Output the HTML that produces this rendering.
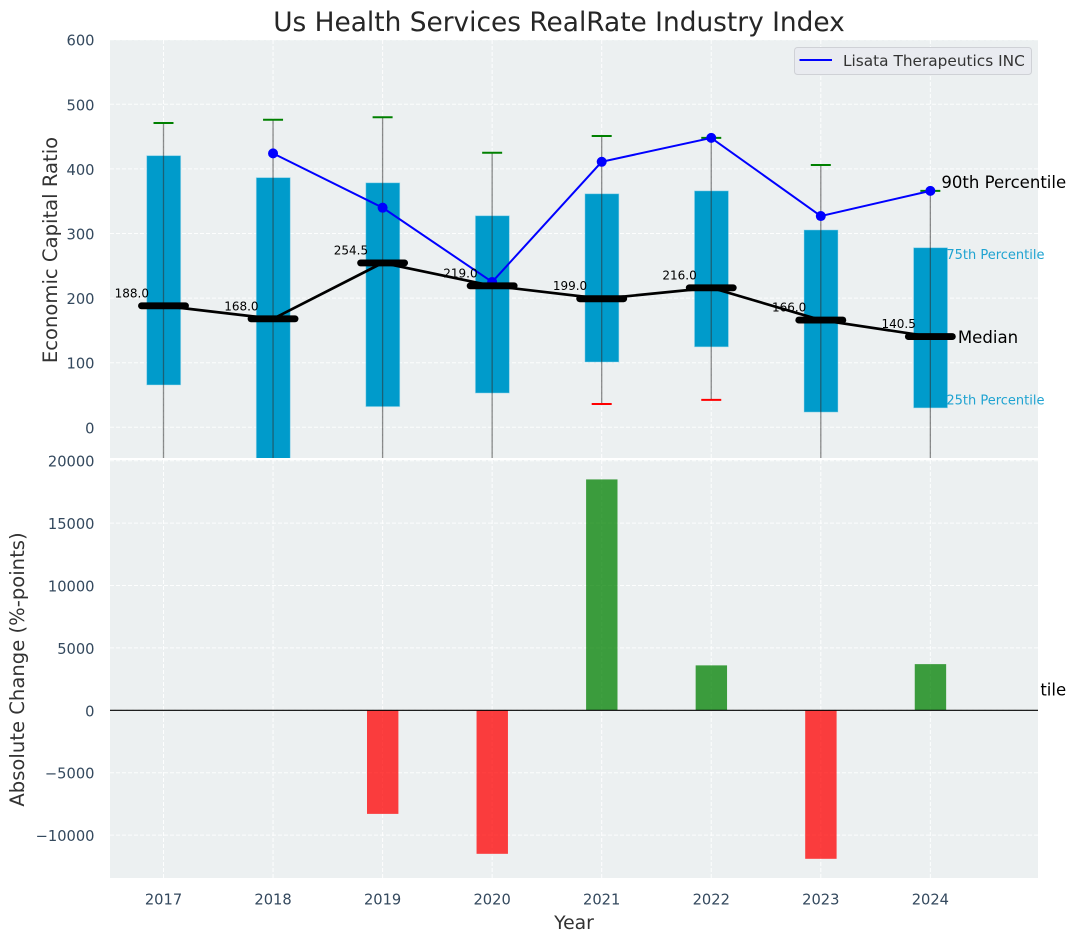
<!DOCTYPE html>
<html lang="en">
<head>
<meta charset="utf-8">
<title>Us Health Services RealRate Industry Index</title>
<style>
html,body{margin:0;padding:0;background:#fff;}
svg{display:block;font-family:"DejaVu Sans","Liberation Sans",sans-serif;}
</style>
</head>
<body>
<svg id="chart" xmlns="http://www.w3.org/2000/svg" width="1076" height="942" viewBox="0 0 1076 942">
  <defs>
    <clipPath id="clip-top"><rect x="110" y="40" width="928" height="418"></rect></clipPath>
    <clipPath id="clip-bottom"><rect x="110" y="460" width="928" height="418"></rect></clipPath>
    <clipPath id="clip-overflow-label"><rect x="1040.6" y="460" width="36" height="418"></rect></clipPath>
  </defs>
  <rect x="0" y="0" width="1076" height="942" fill="#ffffff"></rect>
  <text x="559" y="31" font-size="26.4" text-anchor="middle" fill="#262626">Us Health Services RealRate Industry Index</text>
  <rect x="110" y="40" width="928" height="418" fill="#ecf0f1"></rect>
  <g id="top-grid"></g>
  <g id="top-marks" clip-path="url(#clip-top)"></g>
  <g id="top-ticks"></g>
  <g id="percentile-labels"></g>
  <rect x="110" y="460" width="928" height="418" fill="#ecf0f1"></rect>
  <g id="bottom-grid"></g>
  <g id="bottom-marks" clip-path="url(#clip-bottom)"></g>
  <g id="bottom-ticks"></g>
  <text transform="translate(57,250) rotate(-90)" font-size="19.6" text-anchor="middle" fill="#333333">Economic Capital Ratio</text>
  <text transform="translate(24,669.5) rotate(-90)" font-size="19.6" text-anchor="middle" fill="#333333">Absolute Change (%-points)</text>
  <text x="574" y="929" font-size="18.8" text-anchor="middle" fill="#333333">Year</text>
  <g>
    <rect x="794.5" y="47.5" width="237" height="27" rx="3" ry="3" fill="#e9ebf0" stroke="#cfd1d6" stroke-width="1"></rect>
    <line x1="799.5" y1="60" x2="832" y2="60" stroke="#0000ff" stroke-width="2"></line>
    <text x="843" y="66" font-size="15.33" fill="#333333">Lisata Therapeutics INC</text>
  </g>
</svg>
<script>
var years = [2017, 2018, 2019, 2020, 2021, 2022, 2023, 2024];
var p90 = [471, 476, 480, 425, 451, 448, 406, 366];
var p75 = [420.5, 386.5, 378.5, 327.5, 361.5, 366, 305.5, 278];
var medians = [188.0, 168.0, 254.5, 219.0, 199.0, 216.0, 166.0, 140.5];
var p25 = [65.5, -60, 32, 53, 101, 124.5, 23.5, 30];
var p10 = [-100, -220, -140, -100, 36, 42.5, -130, -420];
var company = [null, 424, 340, 225, 411, 448, 327, 366];
var changes = [null, null, -8300, -11500, 18500, 3600, -11900, 3700];
var topTicks = [0, 100, 200, 300, 400, 500, 600];
var bottomTicks = [-10000, -5000, 0, 5000, 10000, 15000, 20000];

var NS = 'http://www.w3.org/2000/svg';
function xAxis(year) { return 163.5 + (year - 2017) * 109.55; }
function yTop(v) { return 427.3 - v * 0.646; }
function yBottom(v) { return 710.3 - v * 0.01248; }
function mk(tag, attrs, parent, text) {
  var el = document.createElementNS(NS, tag);
  for (var k in attrs) { el.setAttribute(k, attrs[k]); }
  if (text !== undefined) { el.textContent = text; }
  parent.appendChild(el);
  return el;
}
function fmt(v) { return v < 0 ? '\u2212' + Math.abs(v) : String(v); }

var topGrid = document.getElementById('top-grid');
var topMarks = document.getElementById('top-marks');
var topTickGroup = document.getElementById('top-ticks');
var labelsGroup = document.getElementById('percentile-labels');
var bottomGrid = document.getElementById('bottom-grid');
var bottomMarks = document.getElementById('bottom-marks');
var bottomTickGroup = document.getElementById('bottom-ticks');
var gridStyle = {stroke: '#ffffff', 'stroke-width': 1, 'stroke-dasharray': '4 2', 'stroke-opacity': 0.9};
function withGrid(a) { for (var k in gridStyle) { a[k] = gridStyle[k]; } return a; }

topTicks.forEach(function (t) {
  var g = mk('line', withGrid({x1: 110, x2: 1038, y1: yTop(t), y2: yTop(t)}), topGrid);
  
  
  var l = mk('text', {x: 94.5, y: yTop(t) + 6, 'font-size': 14.67, 'text-anchor': 'end', fill: '#34495e'}, topTickGroup, fmt(t));
  
  
});
years.forEach(function (y) {
  var g = mk('line', withGrid({x1: xAxis(y), x2: xAxis(y), y1: 40, y2: 458}), topGrid);
  
  
});

years.forEach(function (y, i) {
  var top = yTop(p75[i]);
  var box = mk('rect', {x: xAxis(y) - 16.8, y: top, width: 34, height: yTop(p25[i]) - top, fill: '#009bcb', stroke: '#a5dcee', 'stroke-opacity': 0.6, 'stroke-width': 0.8}, topMarks);
  
  
});
years.forEach(function (y, i) {
  var w = mk('line', {x1: xAxis(y), x2: xAxis(y), y1: yTop(p90[i]), y2: yTop(p10[i]), stroke: '#303030', 'stroke-opacity': 0.55, 'stroke-width': 1.3}, topMarks);
  
  
  var capHigh = mk('line', {x1: xAxis(y) - 10, x2: xAxis(y) + 10, y1: yTop(p90[i]), y2: yTop(p90[i]), stroke: '#008000', 'stroke-width': 2}, topMarks);
  
  
  var capLow = mk('line', {x1: xAxis(y) - 10, x2: xAxis(y) + 10, y1: yTop(p10[i]), y2: yTop(p10[i]), stroke: '#ff0000', 'stroke-width': 2}, topMarks);
  
  
});

var companyPts = [];
years.forEach(function (y, i) {
  if (company[i] !== null) { companyPts.push(xAxis(y) + ',' + yTop(company[i])); }
});
var companyLine = mk('polyline', {points: companyPts.join(' '), fill: 'none', stroke: '#0000ff', 'stroke-width': 2}, topMarks);


years.forEach(function (y, i) {
  if (company[i] === null) { return; }
  var p = mk('circle', {cx: xAxis(y), cy: yTop(company[i]), r: 5, fill: '#0000ff'}, topMarks);
  
  
});

var medianPts = years.map(function (y, i) { return xAxis(y) + ',' + yTop(medians[i]); });
var medianLine = mk('polyline', {points: medianPts.join(' '), fill: 'none', stroke: '#000000', 'stroke-width': 2.7}, topMarks);


years.forEach(function (y, i) {
  var m = mk('line', {x1: xAxis(y) - 22, x2: xAxis(y) + 22, y1: yTop(medians[i]), y2: yTop(medians[i]), stroke: '#000000', 'stroke-width': 6.9, 'stroke-linecap': 'round'}, topMarks);
  
  
});
years.forEach(function (y, i) {
  var t = mk('text', {x: xAxis(y) - 14.5, y: yTop(medians[i]) - 8.5, 'font-size': 12, 'text-anchor': 'end', fill: '#000000'}, labelsGroup, medians[i].toFixed(1));
  
  
});

var last = years.length - 1;
var lx = xAxis(years[last]);
var t90 = mk('text', {x: lx + 11, y: yTop(p90[last]) - 3, 'font-size': 16.55, fill: '#000000'}, labelsGroup, '90th Percentile');


var t75 = mk('text', {x: lx + 16, y: yTop(p75[last]) + 11.5, 'font-size': 13, fill: '#1fa3d1'}, labelsGroup, '75th Percentile');


var tMed = mk('text', {x: lx + 27.5, y: yTop(medians[last]) + 6.5, 'font-size': 16.6, fill: '#000000'}, labelsGroup, 'Median');


var t25 = mk('text', {x: lx + 16, y: yTop(p25[last]) - 3.5, 'font-size': 13, fill: '#1fa3d1'}, labelsGroup, '25th Percentile');


var t10 = mk('text', {x: lx + 11, y: yTop(p10[last]) - 3, 'font-size': 16.55, fill: '#000000', 'clip-path': 'url(#clip-overflow-label)'}, labelsGroup, '10th Percentile');



bottomTicks.forEach(function (t) {
  var g = mk('line', withGrid({x1: 110, x2: 1038, y1: yBottom(t), y2: yBottom(t)}), bottomGrid);
  
  
  var l = mk('text', {x: 94.5, y: yBottom(t) + 6, 'font-size': 14.67, 'text-anchor': 'end', fill: '#34495e'}, bottomTickGroup, fmt(t));
  
  
});
years.forEach(function (y) {
  var g = mk('line', withGrid({x1: xAxis(y), x2: xAxis(y), y1: 460, y2: 878}), bottomGrid);
  
  
  var l = mk('text', {x: xAxis(y), y: 904.5, 'font-size': 14.67, 'text-anchor': 'middle', fill: '#34495e'}, bottomTickGroup, String(y));
  
  
});
years.forEach(function (y, i) {
  var v = changes[i];
  if (v === null) { return; }
  var y0 = Math.min(yBottom(v), yBottom(0));
  var b = mk('rect', {x: xAxis(y) - 15.6, y: y0, width: 31.4, height: Math.abs(yBottom(v) - yBottom(0)), fill: v >= 0 ? '#008000' : '#ff0000', 'fill-opacity': 0.75}, bottomMarks);
  
  
});
var zero = mk('line', {x1: 110, x2: 1038, y1: yBottom(0), y2: yBottom(0), stroke: '#000000', 'stroke-width': 1.1}, bottomMarks);


</script>
</body>
</html>
